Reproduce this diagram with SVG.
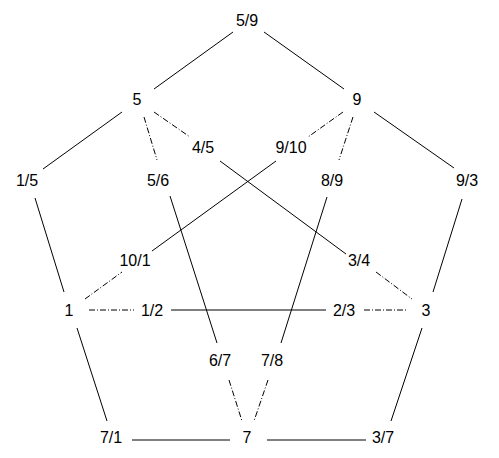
<svg xmlns="http://www.w3.org/2000/svg" width="499" height="458" viewBox="0 0 499 458">
<style>
text{font-family:"Liberation Sans",Arial,sans-serif;font-size:16px;fill:#000;text-anchor:middle}
line{stroke:#000;stroke-width:1;fill:none}
.dd{stroke-dasharray:6 2 1 2}
</style>
<rect width="499" height="458" fill="#fff"/>
<g id="connectors">
<line x1="233" y1="32" x2="154" y2="89"/>
<line x1="264" y1="32" x2="344" y2="89"/>
<line x1="122" y1="112" x2="43" y2="169"/>
<line class="dd" x1="144" y1="117" x2="157" y2="160"/>
<line class="dd" x1="154" y1="112" x2="190" y2="137"/>
<line x1="220" y1="161" x2="346" y2="254"/>
<line x1="170" y1="196" x2="217" y2="343"/>
<line x1="276" y1="161" x2="152" y2="251"/>
<line x1="327" y1="197" x2="281" y2="343"/>
<line class="dd" x1="343" y1="112" x2="308" y2="137"/>
<line class="dd" x1="353" y1="117" x2="339" y2="160"/>
<line x1="374" y1="112" x2="454" y2="168"/>
<line x1="462" y1="199" x2="433" y2="292"/>
<line x1="35" y1="198" x2="64" y2="292"/>
<line class="dd" x1="85" y1="299" x2="122" y2="272"/>
<line class="dd" x1="89" y1="310" x2="134" y2="310"/>
<line x1="171" y1="310" x2="326" y2="310"/>
<line class="dd" x1="364" y1="310" x2="408" y2="310"/>
<line class="dd" x1="376" y1="272" x2="412" y2="299"/>
<line x1="77" y1="328" x2="107" y2="421"/>
<line class="dd" x1="229" y1="380" x2="242" y2="421"/>
<line class="dd" x1="268" y1="380" x2="254" y2="421"/>
<line x1="422" y1="328" x2="391" y2="421"/>
<line x1="132" y1="440" x2="230" y2="440"/>
<line x1="267" y1="440" x2="366" y2="440"/>
</g>
<g id="n59"><text x="247" y="26">5/9</text></g>
<g id="n5"><text x="137" y="105">5</text></g>
<g id="n9"><text x="357" y="105">9</text></g>
<g id="n45"><text x="203" y="153">4/5</text></g>
<g id="n910"><text x="291" y="153">9/10</text></g>
<g id="n15"><text x="27" y="186">1/5</text></g>
<g id="n56"><text x="158" y="186">5/6</text></g>
<g id="n89"><text x="332" y="186">8/9</text></g>
<g id="n93"><text x="467" y="186">9/3</text></g>
<g id="n101"><text x="135" y="266">10/1</text></g>
<g id="n34"><text x="359" y="266">3/4</text></g>
<g id="n1"><text x="69" y="316">1</text></g>
<g id="n12"><text x="152" y="316">1/2</text></g>
<g id="n23"><text x="344" y="316">2/3</text></g>
<g id="n3"><text x="426" y="316">3</text></g>
<g id="n67"><text x="220" y="366">6/7</text></g>
<g id="n78"><text x="272" y="366">7/8</text></g>
<g id="n71"><text x="111" y="443">7/1</text></g>
<g id="n7"><text x="247" y="443">7</text></g>
<g id="n37"><text x="383" y="443">3/7</text></g>
</svg>
